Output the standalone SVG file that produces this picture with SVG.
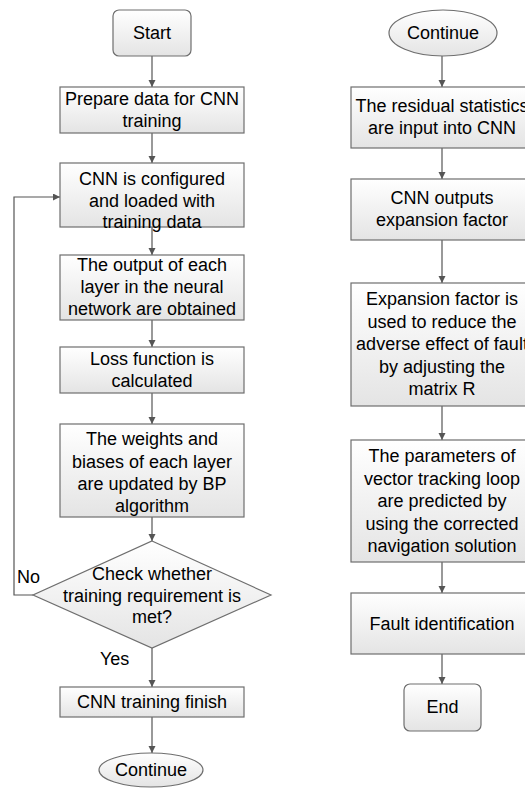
<svg xmlns="http://www.w3.org/2000/svg" width="525" height="792" viewBox="0 0 525 792">
<defs>
<linearGradient id="g" x1="0" y1="0" x2="0" y2="1">
<stop offset="0" stop-color="#ffffff"/>
<stop offset="1" stop-color="#e4e4e4"/>
</linearGradient>
<marker id="arr" markerUnits="userSpaceOnUse" markerWidth="8" markerHeight="8" refX="7" refY="3.5" orient="auto">
<path d="M0,0 L7,3.5 L0,7 z" fill="#555"/>
</marker>
</defs>
<style>
.b{fill:url(#g);stroke:#6e6e6e;stroke-width:1.2}
.t{font-family:"Liberation Sans",Arial,sans-serif;font-size:18px;fill:#000;text-anchor:middle}
.l{font-family:"Liberation Sans",Arial,sans-serif;font-size:18px;fill:#000}
.c{fill:none;stroke:#555;stroke-width:1.2;marker-end:url(#arr)}
</style>
<rect width="525" height="792" fill="#fff"/>
<g id="connectors">
<line class="c" x1="152" y1="56" x2="152" y2="87"/>
<line class="c" x1="152" y1="133" x2="152" y2="163"/>
<line class="c" x1="152" y1="227" x2="152" y2="255"/>
<line class="c" x1="152" y1="320" x2="152" y2="347"/>
<line class="c" x1="152" y1="393" x2="152" y2="424"/>
<line class="c" x1="152" y1="517" x2="152" y2="541"/>
<line class="c" x1="152" y1="648" x2="152" y2="687"/>
<line class="c" x1="152" y1="717" x2="152" y2="753"/>
<polyline class="c" points="33,595 14,595 14,197 60,197"/>
<line class="c" x1="442" y1="56" x2="442" y2="87"/>
<line class="c" x1="442" y1="148" x2="442" y2="179"/>
<line class="c" x1="442" y1="240" x2="442" y2="283"/>
<line class="c" x1="442" y1="406" x2="442" y2="440"/>
<line class="c" x1="442" y1="562" x2="442" y2="593"/>
<line class="c" x1="442" y1="654" x2="442" y2="684"/>
<text class="l" x="17" y="583">No</text>
<text class="l" x="100" y="665">Yes</text>
</g>
<g id="start">
<rect class="b" x="113" y="10" width="78" height="46" rx="6"/>
<text class="t" x="152" y="39">Start</text>
</g>
<g id="prepare">
<rect class="b" x="60" y="87" width="184" height="46"/>
<text class="t" x="152" y="105">Prepare data for CNN</text>
<text class="t" x="152" y="127">training</text>
</g>
<g id="configure">
<rect class="b" x="60" y="163" width="184" height="64"/>
<text class="t" x="152" y="185">CNN is configured</text>
<text class="t" x="152" y="207">and loaded with</text>
<text class="t" x="152" y="228">training data</text>
</g>
<g id="output">
<rect class="b" x="60" y="255" width="184" height="65"/>
<text class="t" x="152" y="271">The output of each</text>
<text class="t" x="152" y="293">layer in the neural</text>
<text class="t" x="152" y="315">network are obtained</text>
</g>
<g id="loss">
<rect class="b" x="60" y="347" width="184" height="46"/>
<text class="t" x="152" y="365">Loss function is</text>
<text class="t" x="152" y="387">calculated</text>
</g>
<g id="weights">
<rect class="b" x="60" y="424" width="184" height="93"/>
<text class="t" x="152" y="445">The weights and</text>
<text class="t" x="152" y="467.5">biases of each layer</text>
<text class="t" x="152" y="490">are updated by BP</text>
<text class="t" x="152" y="512">algorithm</text>
</g>
<g id="check">
<polygon class="b" points="152,541 271,595 152,648 33,595"/>
<text class="t" x="152" y="580">Check whether</text>
<text class="t" x="152" y="602">training requirement is</text>
<text class="t" x="152" y="623">met?</text>
</g>
<g id="finish">
<rect class="b" x="60" y="687" width="184" height="30"/>
<text class="t" x="152" y="708">CNN training finish</text>
</g>
<g id="continue1">
<ellipse class="b" cx="151" cy="770" rx="52" ry="17"/>
<text class="t" x="151" y="776">Continue</text>
</g>
<g id="continue2">
<ellipse class="b" cx="443" cy="33" rx="54" ry="23"/>
<text class="t" x="443" y="39">Continue</text>
</g>
<g id="residual">
<rect class="b" x="351" y="87" width="182" height="61"/>
<text class="t" x="442" y="112">The residual statistics</text>
<text class="t" x="442" y="134">are input into CNN</text>
</g>
<g id="cnnout">
<rect class="b" x="351" y="179" width="182" height="61"/>
<text class="t" x="442" y="204">CNN outputs</text>
<text class="t" x="442" y="226">expansion factor</text>
</g>
<g id="expansion">
<rect class="b" x="351" y="283" width="182" height="123"/>
<text class="t" x="442" y="305">Expansion factor is</text>
<text class="t" x="442" y="327.5">used to reduce the</text>
<text class="t" x="442" y="350">adverse effect of fault</text>
<text class="t" x="442" y="372.5">by adjusting the</text>
<text class="t" x="442" y="395">matrix R</text>
</g>
<g id="parameters">
<rect class="b" x="351" y="440" width="182" height="122"/>
<text class="t" x="442" y="462">The parameters of</text>
<text class="t" x="442" y="484.5">vector tracking loop</text>
<text class="t" x="442" y="507">are predicted by</text>
<text class="t" x="442" y="529.5">using the corrected</text>
<text class="t" x="442" y="552">navigation solution</text>
</g>
<g id="fault">
<rect class="b" x="351" y="593" width="182" height="61"/>
<text class="t" x="442" y="630">Fault identification</text>
</g>
<g id="end">
<rect class="b" x="404" y="684" width="77" height="47" rx="6"/>
<text class="t" x="442.5" y="713">End</text>
</g>
</svg>
